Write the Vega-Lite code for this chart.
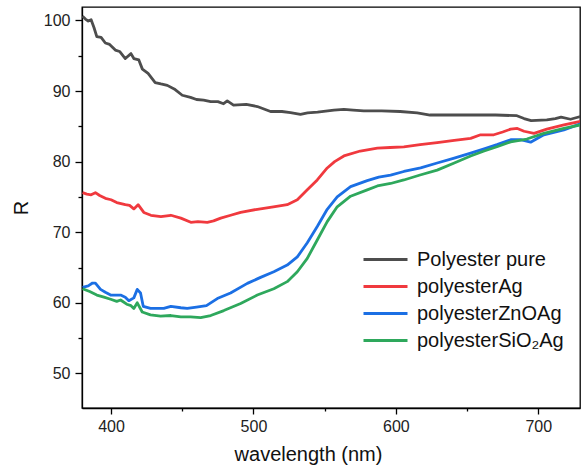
{
  "$schema": "https://vega.github.io/schema/vega-lite/v6.json",
  "width": 498,
  "height": 401,
  "autosize": {"type": "none"},
  "padding": {"left": 82, "top": 7, "right": 2, "bottom": 67},
  "background": "white",
  "config": {
    "font": "Liberation Sans",
    "view": {"stroke": "black", "strokeWidth": 1.3},
    "axis": {"domainColor": "black", "domainWidth": 1.3, "tickColor": "black", "tickWidth": 1.3, "labelColor": "#222222", "titleColor": "#111111", "labelFontSize": 16, "titleFontSize": 20, "titleFontWeight": "normal", "grid": false, "labelFont": "Liberation Sans", "titleFont": "Liberation Sans"}
  },
  "data": {"values": [
    {"w":380,"R":100.6,"s":"Polyester pure"},{"w":382,"R":100.2,"s":"Polyester pure"},{"w":384,"R":99.9,"s":"Polyester pure"},{"w":386,"R":100.1,"s":"Polyester pure"},{"w":388,"R":99.0,"s":"Polyester pure"},{"w":390,"R":97.7,"s":"Polyester pure"},{"w":393,"R":97.6,"s":"Polyester pure"},{"w":396,"R":96.8,"s":"Polyester pure"},{"w":399,"R":96.6,"s":"Polyester pure"},{"w":403,"R":95.8,"s":"Polyester pure"},{"w":406,"R":95.6,"s":"Polyester pure"},{"w":410,"R":94.6,"s":"Polyester pure"},{"w":414,"R":95.3,"s":"Polyester pure"},{"w":416,"R":94.6,"s":"Polyester pure"},{"w":419.5,"R":94.4,"s":"Polyester pure"},{"w":422,"R":93.1,"s":"Polyester pure"},{"w":426,"R":92.5,"s":"Polyester pure"},{"w":431,"R":91.2,"s":"Polyester pure"},{"w":435,"R":91.0,"s":"Polyester pure"},{"w":439.5,"R":90.8,"s":"Polyester pure"},{"w":445,"R":90.2,"s":"Polyester pure"},{"w":450,"R":89.4,"s":"Polyester pure"},{"w":455.8,"R":89.1,"s":"Polyester pure"},{"w":460,"R":88.8,"s":"Polyester pure"},{"w":465,"R":88.7,"s":"Polyester pure"},{"w":470,"R":88.5,"s":"Polyester pure"},{"w":475,"R":88.5,"s":"Polyester pure"},{"w":479,"R":88.2,"s":"Polyester pure"},{"w":481.6,"R":88.6,"s":"Polyester pure"},{"w":486,"R":88.0,"s":"Polyester pure"},{"w":495,"R":88.1,"s":"Polyester pure"},{"w":502.7,"R":87.8,"s":"Polyester pure"},{"w":512,"R":87.1,"s":"Polyester pure"},{"w":520,"R":87.1,"s":"Polyester pure"},{"w":526,"R":86.95,"s":"Polyester pure"},{"w":533,"R":86.7,"s":"Polyester pure"},{"w":538,"R":86.9,"s":"Polyester pure"},{"w":545,"R":87.0,"s":"Polyester pure"},{"w":556.5,"R":87.3,"s":"Polyester pure"},{"w":563.5,"R":87.4,"s":"Polyester pure"},{"w":570,"R":87.3,"s":"Polyester pure"},{"w":577.5,"R":87.2,"s":"Polyester pure"},{"w":590,"R":87.2,"s":"Polyester pure"},{"w":603,"R":87.1,"s":"Polyester pure"},{"w":615,"R":86.9,"s":"Polyester pure"},{"w":624,"R":86.6,"s":"Polyester pure"},{"w":636,"R":86.6,"s":"Polyester pure"},{"w":648,"R":86.6,"s":"Polyester pure"},{"w":657,"R":86.6,"s":"Polyester pure"},{"w":670,"R":86.6,"s":"Polyester pure"},{"w":685,"R":86.5,"s":"Polyester pure"},{"w":690,"R":86.1,"s":"Polyester pure"},{"w":695,"R":85.8,"s":"Polyester pure"},{"w":706,"R":85.9,"s":"Polyester pure"},{"w":712,"R":86.1,"s":"Polyester pure"},{"w":716,"R":86.3,"s":"Polyester pure"},{"w":722.7,"R":86.0,"s":"Polyester pure"},{"w":729.7,"R":86.4,"s":"Polyester pure"},

    {"w":380,"R":75.6,"s":"polyesterAg"},{"w":383,"R":75.4,"s":"polyesterAg"},{"w":386,"R":75.3,"s":"polyesterAg"},{"w":389,"R":75.6,"s":"polyesterAg"},{"w":392,"R":75.2,"s":"polyesterAg"},{"w":396,"R":74.8,"s":"polyesterAg"},{"w":400,"R":74.6,"s":"polyesterAg"},{"w":404,"R":74.2,"s":"polyesterAg"},{"w":410,"R":73.9,"s":"polyesterAg"},{"w":413,"R":73.8,"s":"polyesterAg"},{"w":416,"R":73.3,"s":"polyesterAg"},{"w":419,"R":73.9,"s":"polyesterAg"},{"w":423,"R":72.8,"s":"polyesterAg"},{"w":428,"R":72.4,"s":"polyesterAg"},{"w":435,"R":72.2,"s":"polyesterAg"},{"w":442,"R":72.4,"s":"polyesterAg"},{"w":449,"R":72.0,"s":"polyesterAg"},{"w":456,"R":71.4,"s":"polyesterAg"},{"w":461,"R":71.5,"s":"polyesterAg"},{"w":467.6,"R":71.4,"s":"polyesterAg"},{"w":472,"R":71.6,"s":"polyesterAg"},{"w":477,"R":72.0,"s":"polyesterAg"},{"w":484,"R":72.4,"s":"polyesterAg"},{"w":491,"R":72.8,"s":"polyesterAg"},{"w":502.7,"R":73.25,"s":"polyesterAg"},{"w":514,"R":73.6,"s":"polyesterAg"},{"w":523.7,"R":73.9,"s":"polyesterAg"},{"w":530.8,"R":74.6,"s":"polyesterAg"},{"w":537.8,"R":76.0,"s":"polyesterAg"},{"w":544.8,"R":77.4,"s":"polyesterAg"},{"w":551.8,"R":79.1,"s":"polyesterAg"},{"w":557,"R":80.0,"s":"polyesterAg"},{"w":563.5,"R":80.8,"s":"polyesterAg"},{"w":575,"R":81.5,"s":"polyesterAg"},{"w":587,"R":81.9,"s":"polyesterAg"},{"w":596,"R":82.0,"s":"polyesterAg"},{"w":605.6,"R":82.1,"s":"polyesterAg"},{"w":617,"R":82.4,"s":"polyesterAg"},{"w":629,"R":82.7,"s":"polyesterAg"},{"w":641,"R":83.0,"s":"polyesterAg"},{"w":652.5,"R":83.3,"s":"polyesterAg"},{"w":659.5,"R":83.8,"s":"polyesterAg"},{"w":668.8,"R":83.8,"s":"polyesterAg"},{"w":675,"R":84.2,"s":"polyesterAg"},{"w":680.6,"R":84.6,"s":"polyesterAg"},{"w":685.3,"R":84.7,"s":"polyesterAg"},{"w":690,"R":84.3,"s":"polyesterAg"},{"w":697,"R":84.0,"s":"polyesterAg"},{"w":706,"R":84.6,"s":"polyesterAg"},{"w":718,"R":85.2,"s":"polyesterAg"},{"w":729.7,"R":85.7,"s":"polyesterAg"},

    {"w":380,"R":62.2,"s":"polyesterZnOAg"},{"w":384,"R":62.4,"s":"polyesterZnOAg"},{"w":387,"R":62.8,"s":"polyesterZnOAg"},{"w":389,"R":62.8,"s":"polyesterZnOAg"},{"w":392.6,"R":61.9,"s":"polyesterZnOAg"},{"w":396,"R":61.5,"s":"polyesterZnOAg"},{"w":399.7,"R":61.1,"s":"polyesterZnOAg"},{"w":406.7,"R":61.1,"s":"polyesterZnOAg"},{"w":410,"R":60.8,"s":"polyesterZnOAg"},{"w":412.5,"R":60.3,"s":"polyesterZnOAg"},{"w":416,"R":60.7,"s":"polyesterZnOAg"},{"w":418.4,"R":61.9,"s":"polyesterZnOAg"},{"w":420.7,"R":61.4,"s":"polyesterZnOAg"},{"w":422.6,"R":59.5,"s":"polyesterZnOAg"},{"w":427.7,"R":59.2,"s":"polyesterZnOAg"},{"w":432,"R":59.2,"s":"polyesterZnOAg"},{"w":437,"R":59.2,"s":"polyesterZnOAg"},{"w":442,"R":59.5,"s":"polyesterZnOAg"},{"w":449,"R":59.3,"s":"polyesterZnOAg"},{"w":453.5,"R":59.2,"s":"polyesterZnOAg"},{"w":460,"R":59.4,"s":"polyesterZnOAg"},{"w":467,"R":59.6,"s":"polyesterZnOAg"},{"w":474.6,"R":60.6,"s":"polyesterZnOAg"},{"w":483.9,"R":61.4,"s":"polyesterZnOAg"},{"w":495.7,"R":62.75,"s":"polyesterZnOAg"},{"w":505,"R":63.6,"s":"polyesterZnOAg"},{"w":514.3,"R":64.4,"s":"polyesterZnOAg"},{"w":523.7,"R":65.35,"s":"polyesterZnOAg"},{"w":530.8,"R":66.5,"s":"polyesterZnOAg"},{"w":537.8,"R":68.5,"s":"polyesterZnOAg"},{"w":544.8,"R":70.8,"s":"polyesterZnOAg"},{"w":551.8,"R":73.25,"s":"polyesterZnOAg"},{"w":558.8,"R":75.0,"s":"polyesterZnOAg"},{"w":568.2,"R":76.45,"s":"polyesterZnOAg"},{"w":579.9,"R":77.3,"s":"polyesterZnOAg"},{"w":588,"R":77.8,"s":"polyesterZnOAg"},{"w":596.3,"R":78.1,"s":"polyesterZnOAg"},{"w":605.6,"R":78.6,"s":"polyesterZnOAg"},{"w":617.4,"R":79.1,"s":"polyesterZnOAg"},{"w":629,"R":79.8,"s":"polyesterZnOAg"},{"w":641,"R":80.5,"s":"polyesterZnOAg"},{"w":652.5,"R":81.2,"s":"polyesterZnOAg"},{"w":662,"R":81.8,"s":"polyesterZnOAg"},{"w":671,"R":82.4,"s":"polyesterZnOAg"},{"w":680.6,"R":83.1,"s":"polyesterZnOAg"},{"w":687.6,"R":83.1,"s":"polyesterZnOAg"},{"w":694.6,"R":82.75,"s":"polyesterZnOAg"},{"w":703.9,"R":83.8,"s":"polyesterZnOAg"},{"w":718,"R":84.5,"s":"polyesterZnOAg"},{"w":729.7,"R":85.35,"s":"polyesterZnOAg"},

    {"w":380,"R":62.0,"s":"polyesterSiO₂Ag"},{"w":385,"R":61.6,"s":"polyesterSiO₂Ag"},{"w":390,"R":61.1,"s":"polyesterSiO₂Ag"},{"w":395,"R":60.8,"s":"polyesterSiO₂Ag"},{"w":399.7,"R":60.5,"s":"polyesterSiO₂Ag"},{"w":404,"R":60.2,"s":"polyesterSiO₂Ag"},{"w":406.7,"R":60.4,"s":"polyesterSiO₂Ag"},{"w":411,"R":59.8,"s":"polyesterSiO₂Ag"},{"w":414,"R":59.6,"s":"polyesterSiO₂Ag"},{"w":416,"R":59.2,"s":"polyesterSiO₂Ag"},{"w":418.4,"R":60.0,"s":"polyesterSiO₂Ag"},{"w":421.9,"R":58.7,"s":"polyesterSiO₂Ag"},{"w":427.7,"R":58.3,"s":"polyesterSiO₂Ag"},{"w":434.8,"R":58.1,"s":"polyesterSiO₂Ag"},{"w":442,"R":58.2,"s":"polyesterSiO₂Ag"},{"w":449,"R":58.0,"s":"polyesterSiO₂Ag"},{"w":455.8,"R":58.0,"s":"polyesterSiO₂Ag"},{"w":462.9,"R":57.9,"s":"polyesterSiO₂Ag"},{"w":470,"R":58.2,"s":"polyesterSiO₂Ag"},{"w":479.2,"R":58.9,"s":"polyesterSiO₂Ag"},{"w":491,"R":59.9,"s":"polyesterSiO₂Ag"},{"w":502.7,"R":61.1,"s":"polyesterSiO₂Ag"},{"w":514.3,"R":62.0,"s":"polyesterSiO₂Ag"},{"w":523.7,"R":63.0,"s":"polyesterSiO₂Ag"},{"w":530.8,"R":64.4,"s":"polyesterSiO₂Ag"},{"w":537.8,"R":66.3,"s":"polyesterSiO₂Ag"},{"w":544.8,"R":68.9,"s":"polyesterSiO₂Ag"},{"w":551.8,"R":71.5,"s":"polyesterSiO₂Ag"},{"w":558.8,"R":73.6,"s":"polyesterSiO₂Ag"},{"w":568.2,"R":75.1,"s":"polyesterSiO₂Ag"},{"w":579.9,"R":76.0,"s":"polyesterSiO₂Ag"},{"w":587,"R":76.55,"s":"polyesterSiO₂Ag"},{"w":596.3,"R":76.9,"s":"polyesterSiO₂Ag"},{"w":605.6,"R":77.4,"s":"polyesterSiO₂Ag"},{"w":617,"R":78.1,"s":"polyesterSiO₂Ag"},{"w":629,"R":78.8,"s":"polyesterSiO₂Ag"},{"w":641,"R":79.8,"s":"polyesterSiO₂Ag"},{"w":652.5,"R":80.8,"s":"polyesterSiO₂Ag"},{"w":662,"R":81.5,"s":"polyesterSiO₂Ag"},{"w":671,"R":82.1,"s":"polyesterSiO₂Ag"},{"w":680.6,"R":82.8,"s":"polyesterSiO₂Ag"},{"w":692,"R":83.2,"s":"polyesterSiO₂Ag"},{"w":703.9,"R":84.0,"s":"polyesterSiO₂Ag"},{"w":718,"R":84.7,"s":"polyesterSiO₂Ag"},{"w":729.7,"R":85.2,"s":"polyesterSiO₂Ag"}
  ]},
  "mark": {"type": "line", "strokeWidth": 2.8, "clip": true, "strokeJoin": "round"},
  "encoding": {
    "x": {
      "field": "w", "type": "quantitative",
      "scale": {"domain": [379.6, 729.3], "nice": false, "zero": false},
      "axis": {
        "title": "wavelength (nm)",
        "values": [400, 450, 500, 550, 600, 650, 700],
        "labelExpr": "datum.value % 100 === 0 ? datum.label : ''",
        "tickSize": {"condition": {"test": "datum.value % 100 === 0", "value": 6}, "value": 3},
        "labelPadding": 4,
        "titlePadding": 10,
        "titleX": 226
      }
    },
    "y": {
      "field": "R", "type": "quantitative",
      "scale": {"domain": [45.1, 101.9], "nice": false, "zero": false},
      "axis": {
        "title": "R",
        "values": [50, 55, 60, 65, 70, 75, 80, 85, 90, 95, 100],
        "labelExpr": "datum.value % 10 === 0 ? datum.label : ''",
        "tickSize": {"condition": {"test": "datum.value % 10 === 0", "value": 7}, "value": 4},
        "labelPadding": 5,
        "titlePadding": 12
      }
    },
    "color": {
      "field": "s", "type": "nominal",
      "scale": {
        "domain": ["Polyester pure", "polyesterAg", "polyesterZnOAg", "polyesterSiO₂Ag"],
        "range": ["#4d4d4d", "#f0393e", "#1b6fe4", "#2ea85c"]
      },
      "legend": {
        "title": null,
        "orient": "none",
        "legendX": 291,
        "legendY": 240,
        "padding": 0,
        "symbolType": "M-2,0H2",
        "symbolSize": 484,
        "symbolStrokeWidth": 3,
        "labelFontSize": 20,
        "labelFont": "Liberation Sans",
        "labelColor": "#111111",
        "labelLimit": 300,
        "rowPadding": 4,
        "labelOffset": 19
      }
    }
  }
}
